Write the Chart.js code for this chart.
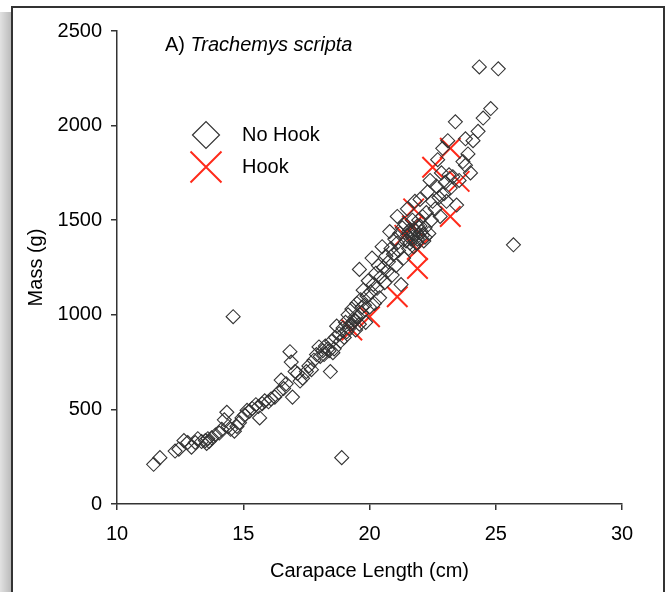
<!DOCTYPE html>
<html>
<head>
<meta charset="utf-8">
<script src="https://cdn.jsdelivr.net/npm/chart.js@4/dist/chart.umd.min.js"></script>
<style>
  html, body { margin: 0; padding: 0; width: 665px; height: 592px; overflow: hidden; background: #fff; }
  #shadow { position: absolute; left: 0; top: 12px; width: 12px; height: 580px;
            background: linear-gradient(to right, #e2e2e2, #b8b8b8); }
  #frame { position: absolute; left: 11px; top: 6px; width: 654px; height: 600px;
           box-sizing: border-box; border: 2px solid #333; background: #fff; }
  #wrap { position: absolute; left: 0; top: 0; width: 665px; height: 592px; }
</style>
</head>
<body>
<div id="shadow"></div>
<div id="frame"></div>
<div id="wrap"><canvas id="c" width="665" height="592"></canvas></div>
<script>
// ---- Data ----
const noHookX = [11.45,11.7,12.3,12.45,12.65,12.8,12.95,13.1,13.2,13.35,13.5,13.55,13.6,13.65,13.75,13.9,14.05,14.15,14.25,14.35,14.4,14.5,14.6,14.65,14.75,14.85,14.95,15.05,15.15,15.25,15.35,15.5,15.6,15.65,15.75,15.85,16.0,16.1,16.25,16.4,16.5,16.6,16.7,16.85,16.9,16.95,17.05,17.15,17.25,17.35,17.5,17.6,17.7,17.8,17.9,18.0,18.05,18.15,18.25,18.35,18.45,18.5,18.55,18.65,18.7,18.8,18.85,18.9,18.95,19.0,19.05,19.1,19.15,19.25,19.3,19.4,19.45,19.5,19.55,19.6,19.65,19.7,19.75,19.8,19.85,19.9,19.95,20.0,20.05,20.1,20.15,20.2,20.25,20.3,20.35,20.4,20.45,20.5,20.55,20.6,20.65,20.7,20.75,20.8,20.85,20.9,20.95,21.0,21.05,21.1,21.1,21.15,21.2,21.25,21.3,21.35,21.4,21.45,21.5,21.5,21.55,21.6,21.65,21.7,21.75,21.8,21.85,21.9,21.95,22.0,22.05,22.1,22.15,22.2,22.25,22.3,22.35,22.4,22.45,22.5,22.6,22.65,22.7,22.75,22.8,22.85,22.9,22.95,23.0,23.05,23.1,23.15,23.2,23.3,23.4,23.45,23.55,23.7,23.8,23.8,23.9,24.0,24.1,24.3,24.35,24.5,24.8,25.1,25.7,21.6,21.7,21.8,21.9,22.0,22.1,21.75,21.95,22.2,21.55,19.2,19.35,19.45,19.6,19.7,18.6,18.4,18.2];
const noHookY = [210,245,280,290,335,325,300,325,345,330,335,320,345,330,350,365,375,395,445,485,410,395,990,385,410,430,455,470,495,490,505,525,515,455,530,545,540,555,565,590,655,610,635,805,750,565,700,690,650,665,700,730,710,760,790,830,780,810,835,820,700,860,800,880,940,900,860,245,930,880,960,910,1000,950,1030,970,920,1060,990,1240,1080,1010,1130,1050,960,1100,1180,1040,1120,1300,1160,1060,1220,1140,1260,1090,1200,1360,1250,1170,1310,1230,1280,1440,1350,1210,1320,1400,1260,1380,1520,1340,1430,1160,1460,1300,1480,1390,1420,1560,1350,1450,1400,1500,1430,1600,1380,1470,1420,1610,1440,1520,1390,1460,1540,1650,1430,1710,1500,1600,1560,1680,1820,1620,1520,1750,1880,1640,1700,1600,1920,1740,1670,1730,2020,1580,1710,1810,1790,1930,1850,1750,1920,1970,2310,2040,2090,2300,1370,1380,1410,1450,1400,1470,1420,1360,1500,1410,1440,930,960,990,950,1040,820,810,790];
const hookX = [22.5,23.2,23.55,23.2,21.7,21.75,21.9,21.9,21.1,20.0,19.3,21.4];
const hookY = [1780,1880,1705,1520,1470,1560,1345,1245,1095,990,920,1420];
const xTicks = [10,15,20,25,30];
const yTicks = [0,500,1000,1500,2000,2500];
const seriesNames = ['No Hook', 'Hook'];
const panelLabel = 'A) ';
const panelSpecies = 'Trachemys scripta';
const xTitle = 'Carapace Length (cm)';
const yTitle = 'Mass (g)';

const FONT = '"Liberation Sans", Arial, sans-serif';
const RED = '#ff2a1a';
const DARK = '#333333';

const toPts = (xs, ys) => xs.map((x, i) => ({ x: x, y: ys[i] }));

const overlay = {
  id: 'overlay',
  afterDraw(chart) {
    const ctx = chart.ctx;
    ctx.save();
    ctx.fillStyle = '#000';
    ctx.textBaseline = 'middle';
    ctx.textAlign = 'left';
    ctx.font = '20px ' + FONT;
    ctx.fillText(panelLabel, 165, 45);
    const w = ctx.measureText(panelLabel).width;
    ctx.font = 'italic 20px ' + FONT;
    ctx.fillText(panelSpecies, 165 + w, 45);
    // legend
    ctx.font = '20px ' + FONT;
    ctx.fillText(seriesNames[0], 242, 135);
    ctx.fillText(seriesNames[1], 242, 167);
    // diamond marker
    ctx.strokeStyle = DARK;
    ctx.lineWidth = 1.2;
    const r = 13.5, cx = 206, cy = 135;
    ctx.beginPath();
    ctx.moveTo(cx - r, cy); ctx.lineTo(cx, cy - r); ctx.lineTo(cx + r, cy); ctx.lineTo(cx, cy + r);
    ctx.closePath(); ctx.stroke();
    // cross marker
    ctx.strokeStyle = RED;
    ctx.lineWidth = 2;
    const d = 15.5, xx = 206, xy = 167;
    ctx.beginPath();
    ctx.moveTo(xx - d, xy - d); ctx.lineTo(xx + d, xy + d);
    ctx.moveTo(xx + d, xy - d); ctx.lineTo(xx - d, xy + d);
    ctx.stroke();
    ctx.restore();
  }
};

new Chart(document.getElementById('c'), {
  type: 'scatter',
  data: {
    datasets: [
      { label: seriesNames[0], data: toPts(noHookX, noHookY), pointStyle: 'rectRot', radius: 7,
        borderColor: DARK, backgroundColor: 'rgba(0,0,0,0)', borderWidth: 1.1, hoverRadius: 7 },
      { label: seriesNames[1], data: toPts(hookX, hookY), pointStyle: 'crossRot', radius: 14.5,
        borderColor: RED, backgroundColor: RED, borderWidth: 2, hoverRadius: 14.5 }
    ]
  },
  options: {
    responsive: false,
    animation: false,
    events: [],
    layout: { padding: { left: 0, top: 31, right: 43, bottom: 0 } },
    plugins: { legend: { display: false }, tooltip: { enabled: false } },
    scales: {
      x: {
        type: 'linear', min: 10, max: 30,
        afterBuildTicks: s => { s.ticks = xTicks.map(v => ({ value: v })); },
        afterFit: s => { s.height = 88; },
        ticks: { color: '#000', font: { family: FONT, size: 20 }, padding: 12, maxRotation: 0,
                 callback: v => String(v) },
        grid: { drawOnChartArea: false, drawTicks: true, tickLength: 6, color: DARK, lineWidth: 1.5 },
        border: { display: true, color: DARK, width: 1.5 },
        title: { display: true, text: xTitle, color: '#000', font: { family: FONT, size: 20 }, padding: { top: 0, bottom: 9 } }
      },
      y: {
        type: 'linear', min: 0, max: 2500,
        afterBuildTicks: s => { s.ticks = yTicks.map(v => ({ value: v })); },
        afterFit: s => { s.width = 117; },
        ticks: { color: '#000', font: { family: FONT, size: 20 }, padding: 9,
                 callback: v => String(v) },
        grid: { drawOnChartArea: false, drawTicks: true, tickLength: 6, color: DARK, lineWidth: 1.5 },
        border: { display: true, color: DARK, width: 1.5 },
        title: { display: true, text: yTitle, color: '#000', font: { family: FONT, size: 20 }, padding: { top: 24, bottom: 0 } }
      }
    }
  },
  plugins: [overlay]
});
</script>
</body>
</html>
